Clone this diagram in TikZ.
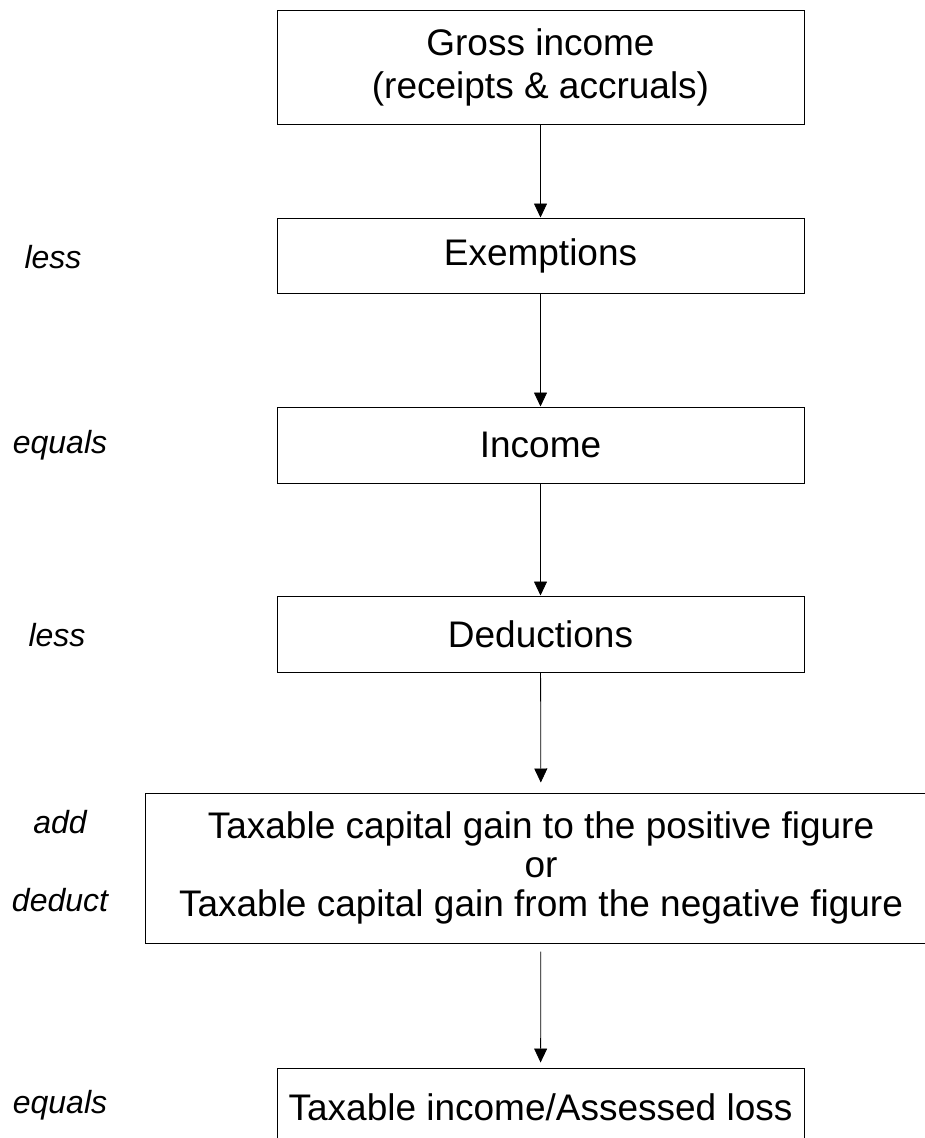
\documentclass[tikz,border=0pt]{standalone}
\usepackage{fontspec}
\setmainfont{Liberation Sans}
\usetikzlibrary{arrows.meta}
\begin{document}
\begin{tikzpicture}[x = 1pt, y = -1pt,
                stage/.style = {draw, line width = 1pt, minimum width = 527pt, inner sep = 0pt, align = center, font = \fontsize{37}{41}\selectfont},
                oper/.style = {font = \fontsize{32}{38}\selectfont\itshape},
                flow/.style = {-{Triangle[width = 13pt, length = 14pt]}, line width = 0.8pt}]
                \useasboundingbox (0, 0) rectangle (924, 1138);
                \node[stage, minimum height = 114pt, font = \fontsize{37}{43}\selectfont] (gross) at (540.5, 67) {Gross income\\(receipts \& accruals)};
                \node[stage, minimum height = 75pt] (exempt) at (540.5, 255.5) {Exemptions};
                \node[stage, minimum height = 76pt] (income) at (540.5, 445) {Income};
                \node[stage, minimum height = 76pt] (deduct) at (540.5, 634) {Deductions};
                \node[stage, minimum width = 792pt, minimum height = 150pt, font = \fontsize{37}{39}\selectfont] (gain) at (541, 868) {Taxable capital gain to the positive figure\\or\\Taxable capital gain from the negative figure};
                \node[stage, minimum height = 78pt] (result) at (540.5, 1107) {Taxable income/Assessed loss};
                \node[oper] (lessA) at (53, 257) {less};
                \node[oper] (equalsA) at (60, 445) {equals};
                \node[oper] (lessB) at (57, 635) {less};
                \node[oper] (add) at (60, 822) {add};
                \node[oper] (deductop) at (60, 900) {deduct};
                \node[oper] (equalsB) at (60, 1105) {equals};
                \draw[flow] (gross) -- (exempt);
                \draw[flow] (exempt) -- (income);
                \draw[flow] (income) -- (deduct);
                \draw[flow, shorten > = 10pt] (deduct) -- (gain);
                \draw[flow, shorten < = 8pt, shorten > = 5pt] (gain) -- (result);
            \end{tikzpicture}
\end{document}
